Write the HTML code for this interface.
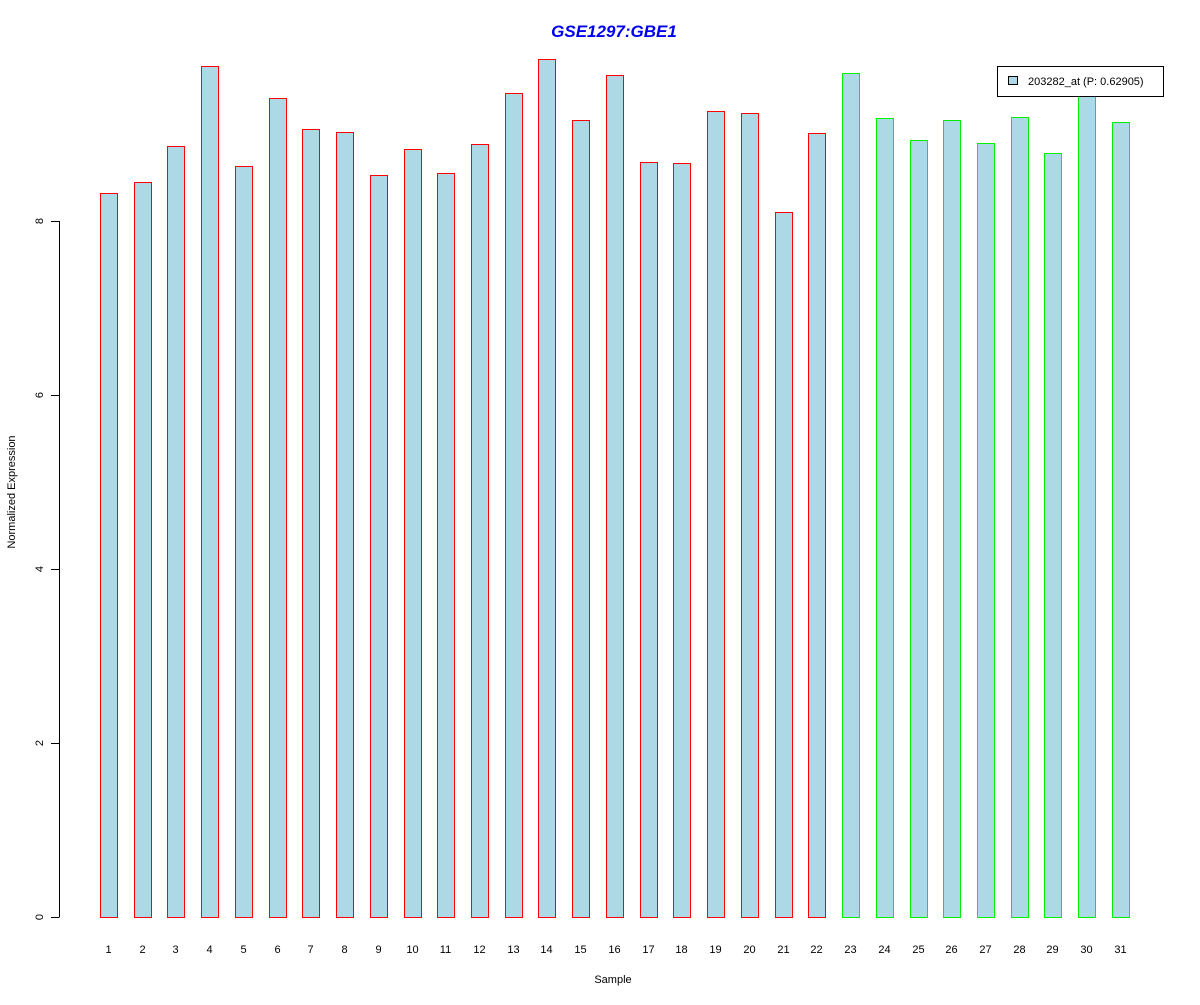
<!DOCTYPE html><html><head><style>body{margin:0;background:#fff}</style></head><body>
<svg width="1200" height="1000" xmlns="http://www.w3.org/2000/svg" font-family="Liberation Sans, sans-serif">
<rect width="1200" height="1000" fill="#fff"/>
<text x="614" y="37" text-anchor="middle" font-size="17" font-weight="bold" font-style="italic" fill="#0000ee">GSE1297:GBE1</text>
<g stroke="#000" stroke-width="1">
<line x1="59.5" y1="221" x2="59.5" y2="917"/>
<line x1="51" y1="917.5" x2="59.5" y2="917.5"/>
<line x1="51" y1="743.5" x2="59.5" y2="743.5"/>
<line x1="51" y1="569.5" x2="59.5" y2="569.5"/>
<line x1="51" y1="395.5" x2="59.5" y2="395.5"/>
<line x1="51" y1="221.5" x2="59.5" y2="221.5"/>
</g>
<g font-size="11" text-anchor="middle">
<text transform="translate(43,917) rotate(-90)">0</text>
<text transform="translate(43,743) rotate(-90)">2</text>
<text transform="translate(43,569) rotate(-90)">4</text>
<text transform="translate(43,395) rotate(-90)">6</text>
<text transform="translate(43,221) rotate(-90)">8</text>
<text transform="translate(15,492) rotate(-90)">Normalized Expression</text>
<text x="613" y="983">Sample</text>
</g>
<g id="bars" fill="#add8e6" stroke-width="1"></g>
<g id="labs" font-size="11" text-anchor="middle"></g>
<rect x="997.5" y="66.5" width="166" height="30" fill="#fff" stroke="#000"/>
<rect x="1008.5" y="76.5" width="9" height="8" fill="#add8e6" stroke="#000"/>
<text x="1028" y="85" font-size="11">203282_at (P: 0.62905)</text>
<script>
var tops=[193,182,146,66,166,98,129,132,175,149,173,144,93,59,120,75,162,163,111,113,212,133,73,118,140,120,143,117,153,96,122];
var b=document.getElementById('bars'),l=document.getElementById('labs'),ns='http://www.w3.org/2000/svg';
tops.forEach(function(t,i){var x=Math.round(100+i*33.73)+0.5;var r=document.createElementNS(ns,'rect');
r.setAttribute('x',x);r.setAttribute('y',t+0.5);r.setAttribute('width',17);r.setAttribute('height',917-t);
r.setAttribute('stroke',i<22?'#ff0000':'#00ee00');b.appendChild(r);
var tx=document.createElementNS(ns,'text');tx.setAttribute('x',(x+8).toFixed(1));tx.setAttribute('y',953);tx.textContent=i+1;l.appendChild(tx);});
</script>
</svg></body></html>
